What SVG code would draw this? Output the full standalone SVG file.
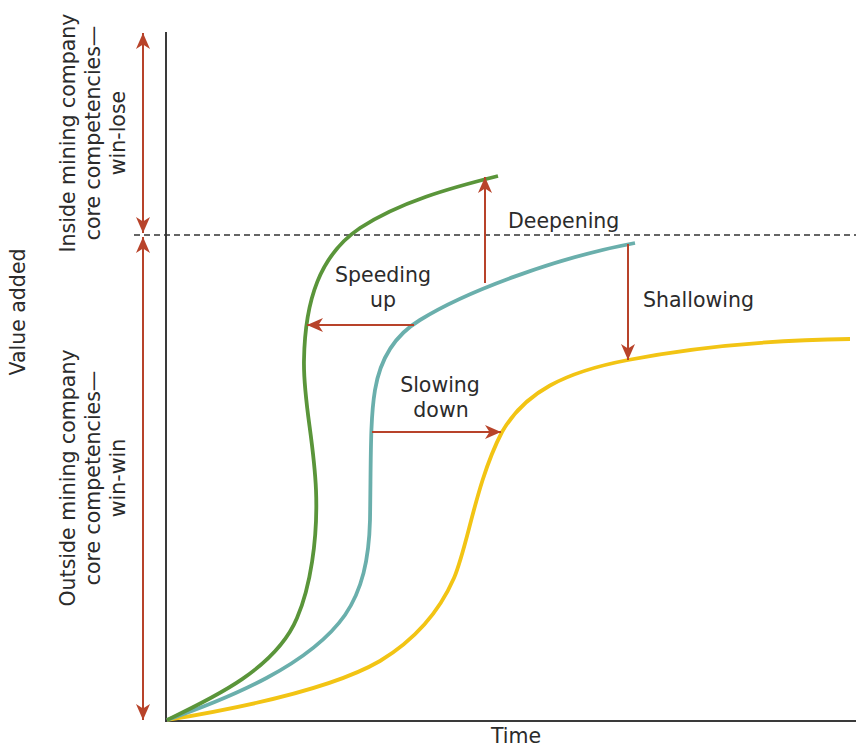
<svg xmlns="http://www.w3.org/2000/svg" width="856" height="748" viewBox="0 0 856 748">
  <defs>
    <marker id="ah" markerUnits="userSpaceOnUse" markerWidth="18" markerHeight="16" refX="16" refY="7" orient="auto-start-reverse" viewBox="0 0 18 16">
      <path d="M0,0 L16,7 L0,14 L4.5,7 Z" fill="#b8432a"/>
    </marker>
  </defs>
  <style>
    text { font-family: "DejaVu Sans", "Liberation Sans", sans-serif; font-size: 20.5px; fill: #2b2b2b; }
    .axis { stroke: #3a3a3a; stroke-width: 2; fill: none; }
    .dash { stroke: #333; stroke-width: 1.3; stroke-dasharray: 6 4; fill: none; }
    .arr { stroke: #b8432a; stroke-width: 2; fill: none; marker-end: url(#ah); }
    .darr { stroke: #b8432a; stroke-width: 2; fill: none; marker-end: url(#ah); marker-start: url(#ah); }
    .curve { fill: none; stroke-width: 3.8; stroke-linecap: butt; }
    .mid { text-anchor: middle; }
  </style>
  <rect width="856" height="748" fill="#ffffff"/>

  <g id="axes">
    <path class="axis" d="M166,32 L166,721 L856,721"/>
    <text class="mid" x="516" y="743">Time</text>
    <text class="mid" transform="translate(25,312) rotate(-90)">Value added</text>
  </g>

  <g id="threshold">
    <path class="dash" d="M134,235 L856,235"/>
  </g>

  <g id="inside-label">
    <text class="mid" transform="translate(75,133) rotate(-90)">Inside mining company</text>
    <text class="mid" transform="translate(100,133) rotate(-90)">core competencies—</text>
    <text class="mid" transform="translate(125,133) rotate(-90)">win-lose</text>
  </g>

  <g id="outside-label">
    <text class="mid" transform="translate(75,478) rotate(-90)">Outside mining company</text>
    <text class="mid" transform="translate(100,478) rotate(-90)">core competencies—</text>
    <text class="mid" transform="translate(125,478) rotate(-90)">win-win</text>
  </g>

  <g id="curve-yellow">
    <path class="curve" stroke="#f2c414" d="M167,720 C240,708 330,690 380,661 C418,638 440,610 454,578 C468,545 476,482 502,432 C525,392 565,372 628,360 C700,346 780,340 850,339"/>
  </g>
  <g id="curve-teal">
    <path class="curve" stroke="#6aafac" d="M167,720 C230,698 310,665 345,615 C362,590 369,560 370,520 C371,460 370,420 375,390 C380,360 395,335 420,320 C465,292 555,258 635,243"/>
  </g>
  <g id="curve-green">
    <path class="curve" stroke="#5a953a" d="M167,720 C215,697 276,668 297,618 C310,588 318,540 316,490 C314,440 303,400 304,360 C305,300 320,255 360,228 C400,202 450,188 498,176"/>
  </g>

  <g id="connectors">
    <path class="darr" d="M143,33 L143,233"/>
    <path class="darr" d="M143,237 L143,720"/>
    <path class="arr" d="M485,283 L485,177"/>
    <path class="arr" d="M414,325 L307,325"/>
    <path class="arr" d="M628,244 L628,360"/>
    <path class="arr" d="M372,432 L501,432"/>
  </g>

  <g id="label-deepening">
    <text x="508" y="228">Deepening</text>
  </g>
  <g id="label-speeding">
    <text class="mid" x="383" y="282">Speeding</text>
    <text class="mid" x="383" y="307">up</text>
  </g>
  <g id="label-slowing">
    <text class="mid" x="440" y="392">Slowing</text>
    <text class="mid" x="441" y="417">down</text>
  </g>
  <g id="label-shallowing">
    <text x="643" y="307">Shallowing</text>
  </g>
</svg>
